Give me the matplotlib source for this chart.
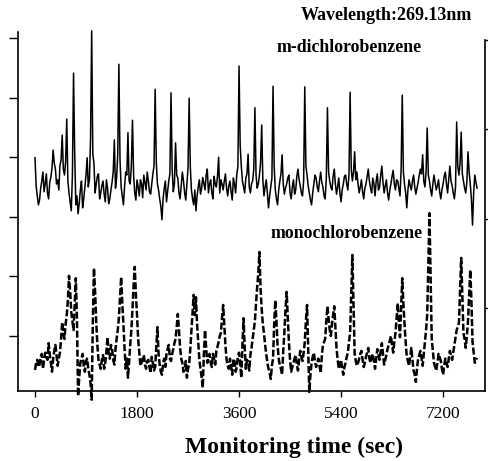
import matplotlib
matplotlib.use("Agg")
import matplotlib.pyplot as plt
import numpy as np

# samples every 40 s (main) plus the readings in between (offset by 20 s)
time_main = np.arange(0, 7840, 40)
time_mid = np.arange(20, 7800, 40)

# m-dichlorobenzene signal (solid), arbitrary intensity units
m_dichloro = [
    3.99, 3.35, 3.28, 3.60, 3.42, 3.72, 3.30, 3.66, 4.12, 3.80,
    3.62, 3.86, 4.37, 3.70, 4.64, 3.40, 3.10, 5.41, 3.20, 3.05,
    3.45, 3.15, 3.50, 3.99, 3.62, 6.12, 3.90, 3.55, 3.72, 3.40,
    3.60, 3.25, 3.48, 3.30, 3.58, 4.29, 3.65, 5.56, 3.50, 3.20,
    3.75, 4.41, 3.55, 4.62, 3.40, 3.62, 3.35, 3.55, 3.70, 3.45,
    3.60, 3.38, 3.72, 5.14, 3.55, 3.30, 2.95, 3.48, 3.25, 3.60,
    5.08, 3.42, 4.24, 3.65, 3.30, 3.75, 3.40, 3.55, 4.99, 3.45,
    3.20, 3.10, 3.50, 3.38, 3.66, 3.45, 3.80, 3.55, 3.40, 3.68,
    3.50, 4.00, 3.62, 3.45, 3.72, 3.35, 3.60, 3.28, 3.55, 3.70,
    5.53, 3.85, 3.50, 3.65, 4.05, 3.40, 3.60, 4.83, 3.48, 3.70,
    4.54, 3.35, 3.62, 3.15, 3.50, 5.19, 3.45, 3.20, 3.60, 4.04,
    3.38, 3.55, 3.70, 3.30, 3.62, 3.45, 3.80, 3.52, 3.35, 5.18,
    3.70, 3.40, 3.20, 3.55, 3.65, 3.42, 3.75, 3.50, 3.30, 4.83,
    3.60, 3.45, 3.80, 3.38, 3.65, 3.25, 3.55, 3.70, 3.45, 5.09,
    3.60, 4.09, 3.75, 3.40, 3.62, 3.30, 3.55, 3.80, 3.48, 3.65,
    3.35, 3.72, 3.50, 3.85, 3.40, 3.62, 3.28, 3.55, 3.78, 3.45,
    3.60, 3.35, 5.04, 3.55, 3.15, 3.62, 3.45, 3.70, 3.38, 3.58,
    3.80, 4.04, 3.50, 4.49, 3.60, 3.35, 3.70, 3.45, 3.62, 3.30,
    3.55, 3.75, 3.40, 3.85, 3.52, 3.30, 4.59, 3.70, 4.42, 3.60,
    3.40, 4.09, 3.55, 2.86, 3.70, 3.48,
]
m_dichloro_mid = [
    3.52, 3.20, 3.48, 3.75, 3.55, 3.40, 3.58, 3.82, 3.90, 3.55,
    3.45, 3.95, 3.80, 3.92, 3.60, 3.25, 3.70, 4.10, 3.35, 3.22,
    3.60, 3.30, 3.70, 3.50, 4.30, 4.05, 3.40, 3.68, 3.30, 3.52,
    3.38, 3.62, 3.22, 3.45, 3.75, 3.48, 4.05, 3.95, 3.35, 3.50,
    3.70, 3.60, 3.85, 3.70, 3.28, 3.50, 3.62, 3.32, 3.58, 3.75,
    3.42, 3.55, 3.85, 3.92, 3.45, 3.18, 3.30, 3.60, 3.42, 3.72,
    3.80, 3.55, 3.70, 3.40, 3.52, 3.60, 3.28, 3.82, 3.85, 3.30,
    3.45, 3.35, 3.62, 3.48, 3.55, 3.70, 3.40, 3.62, 3.30, 3.55,
    3.68, 3.40, 3.55, 3.60, 3.48, 3.52, 3.42, 3.65, 3.40, 3.85,
    4.20, 3.60, 3.40, 3.72, 3.50, 3.55, 3.80, 3.70, 3.55, 3.90,
    3.62, 3.50, 3.40, 3.35, 3.65, 3.85, 3.30, 3.45, 3.72, 3.55,
    3.48, 3.65, 3.40, 3.50, 3.38, 3.68, 3.62, 3.40, 3.60, 3.85,
    3.52, 3.28, 3.40, 3.70, 3.50, 3.60, 3.58, 3.35, 3.65, 3.75,
    3.50, 3.68, 3.55, 3.50, 3.40, 3.45, 3.68, 3.55, 3.70, 3.80,
    3.75, 3.62, 3.55, 3.50, 3.42, 3.48, 3.68, 3.60, 3.40, 3.55,
    3.60, 3.45, 3.70, 3.58, 3.52, 3.40, 3.45, 3.68, 3.55, 3.62,
    3.48, 3.80, 3.75, 3.40, 3.45, 3.52, 3.60, 3.50, 3.48, 3.70,
    3.72, 3.60, 3.75, 3.70, 3.45, 3.55, 3.58, 3.52, 3.42, 3.45,
    3.68, 3.55, 3.62, 3.60, 3.40, 3.50, 3.85, 3.90, 3.72, 3.48,
    3.58, 3.75, 3.30, 3.40, 3.58,
]

# monochlorobenzene signal (dashed)
mono_chloro = [
    0.43, 0.60, 0.52, 0.70, 0.58, 0.66, 0.88, 0.55, 0.62, 0.85,
    0.50, 0.72, 1.23, 0.95, 1.35, 2.01, 1.40, 1.10, 1.97, -0.01,
    0.55, 0.70, 0.40, 0.62, 0.35, -0.07, 2.14, 1.25, 0.60, 0.45,
    0.68, 0.55, 0.98, 0.62, 0.78, 0.52, 0.95, 1.30, 1.99, 1.20,
    0.45, 0.30, 0.85, 1.45, 2.16, 1.35, 0.72, 0.55, 0.68, 0.45,
    0.60, 0.38, 0.55, 0.48, 1.15, 0.52, 0.35, 0.62, 0.70, 0.85,
    0.58, 0.78, 0.95, 1.37, 0.80, 0.55, 0.45, 0.30, 0.52, 1.10,
    1.69, 1.65, 0.90, 0.45, 0.13, 1.10, 0.55, 0.70, 0.48, 0.62,
    0.75, 0.90, 1.05, 1.52, 0.85, 0.50, 0.62, 0.35, 0.58, 0.48,
    0.72, 0.30, 1.30, 0.45, 0.55, 0.68, 0.95, 1.25, 1.82, 2.41,
    1.45, 1.05, 0.70, 0.45, 0.28, 0.62, 1.60, 0.85, 0.50, 0.35,
    1.05, 1.74, 0.90, 0.40, 0.55, 0.68, 0.42, 0.75, 0.58, 0.90,
    1.52, 0.06, 0.55, 0.72, 0.48, 0.62, 0.38, 0.85, 0.95, 1.50,
    1.10, 1.20, 1.50, 0.80, 0.45, 0.60, 0.35, 0.55, 0.72, 1.05,
    2.36, 0.70, 0.50, 0.62, 0.75, 0.48, 0.65, 0.80, 0.55, 0.70,
    0.45, 0.78, 0.60, 0.88, 0.52, 0.68, 0.85, 1.00, 0.72, 1.05,
    1.55, 0.98, 1.97, 1.20, 0.65, 0.50, 0.80, 0.42, 0.23, 0.62,
    0.75, 0.50, 0.90, 1.35, 3.06, 0.95, 0.55, 0.42, 0.70, 0.58,
    0.35, 0.62, 0.48, 0.75, 0.60, 0.85, 1.10, 1.22, 2.31, 1.05,
    0.80, 1.25, 2.11, 0.90, 0.55, 0.63,
]
mono_chloro_mid = [
    0.55, 0.48, 0.65, 0.45, 0.72, 0.60, 0.70, 0.40, 0.75, 0.68,
    0.62, 0.95, 1.05, 1.20, 1.60, 1.75, 1.25, 1.55, 1.30, 0.30,
    0.62, 0.50, 0.58, 0.45, 0.20, 1.20, 1.75, 0.85, 0.52, 0.60,
    0.45, 0.75, 0.70, 0.85, 0.60, 0.78, 1.10, 1.65, 1.55, 0.80,
    0.62, 0.55, 1.10, 1.85, 1.70, 0.95, 0.50, 0.62, 0.52, 0.58,
    0.48, 0.65, 0.42, 0.80, 0.70, 0.40, 0.55, 0.48, 0.78, 0.62,
    0.70, 0.88, 1.15, 1.10, 0.62, 0.40, 0.58, 0.45, 0.78, 1.40,
    1.35, 1.20, 0.60, 0.30, 0.70, 0.80, 0.62, 0.55, 0.70, 0.52,
    0.82, 1.00, 1.30, 1.20, 0.60, 0.45, 0.50, 0.62, 0.40, 0.65,
    0.55, 0.85, 0.80, 0.60, 0.42, 0.80, 1.10, 1.55, 2.05, 1.80,
    1.20, 0.85, 0.55, 0.38, 0.50, 1.20, 1.25, 0.62, 0.45, 0.75,
    1.45, 1.30, 0.60, 0.48, 0.62, 0.52, 0.60, 0.65, 0.72, 1.25,
    0.80, 0.35, 0.65, 0.58, 0.55, 0.50, 0.65, 0.90, 1.25, 1.30,
    1.00, 1.35, 1.15, 0.60, 0.52, 0.45, 0.48, 0.65, 0.90, 1.70,
    1.50, 0.58, 0.55, 0.70, 0.60, 0.55, 0.72, 0.62, 0.65, 0.58,
    0.62, 0.70, 0.75, 0.70, 0.60, 0.78, 0.92, 0.85, 0.90, 1.30,
    1.25, 1.50, 1.55, 0.90, 0.58, 0.65, 0.60, 0.35, 0.45, 0.68,
    0.62, 0.70, 1.10, 2.20, 2.00, 0.75, 0.48, 0.55, 0.65, 0.45,
    0.50, 0.55, 0.62, 0.68, 0.72, 0.98, 1.15, 1.75, 1.70, 0.95,
    1.00, 1.70, 1.60, 0.72, 0.60,
]

x_ticks = [0, 1800, 3600, 5400, 7200]
x_tick_labels = ["0", "1800", "3600", "5400", "7200"]
left_ticks = [1, 2, 3, 4, 5, 6]
right_ticks = [1, 2, 3, 4]


def merge(t_a, v_a, t_b, v_b):
    t = np.concatenate([t_a, t_b])
    v = np.concatenate([np.asarray(v_a), np.asarray(v_b)])
    order = np.argsort(t)
    return t[order], v[order]


t_m, v_m = merge(time_main, m_dichloro, time_mid, m_dichloro_mid)
t_c, v_c = merge(time_main, mono_chloro, time_mid, mono_chloro_mid)

W, H = 489, 461
fig = plt.figure(figsize=(W / 100, H / 100), dpi=100)
ax = fig.add_axes([18 / W, (H - 391) / H, (485 - 18) / W, (391 - 32) / H])

serif = ["Liberation Serif", "DejaVu Serif"]

ax.plot(t_m, v_m, color="black", lw=1.1, clip_on=False)
ax.plot(t_c, v_c, color="black", lw=1.8,
        linestyle=(0, (2.8, 1.0)), clip_on=False)

ax.set_xlim(-300, 7940)
ax.set_ylim(0.077, 6.1)
ax.set_xticks(x_ticks)
ax.set_xticklabels(x_tick_labels, fontfamily=serif, fontsize=12.5)
ax.set_yticks(left_ticks)
ax.set_yticklabels([])
ax.tick_params(axis="x", direction="out", length=4.5, width=1, pad=6)
ax.tick_params(axis="y", direction="out", length=6.5, width=1)

for s in ["top", "right"]:
    ax.spines[s].set_visible(False)
for s in ["left", "bottom"]:
    ax.spines[s].set_linewidth(1.2)

ax2 = ax.twinx()
ax2.set_ylim(0.07, 4.09)
ax2.set_yticks(right_ticks)
ax2.set_yticklabels([])
ax2.tick_params(axis="y", direction="out", length=4, width=1)
for s in ["top", "left", "bottom"]:
    ax2.spines[s].set_visible(False)
ax2.spines["right"].set_bounds(0.07, 4.0)
ax2.spines["right"].set_linewidth(1.2)

fig.text(294 / W, 1 - 447 / H, "Monitoring time (sec)", fontfamily=serif,
         fontsize=17, fontweight="bold", ha="center", va="center")

fig.text(472 / W, 1 - 15 / H, "Wavelength:269.13nm", fontfamily=serif,
         fontsize=13, fontweight="bold", ha="right", va="center")
fig.text(349 / W, 1 - 47 / H, "m-dichlorobenzene", fontfamily=serif,
         fontsize=12.8, fontweight="bold", ha="center", va="center")
fig.text(347 / W, 1 - 233 / H, "monochlorobenzene", fontfamily=serif,
         fontsize=12.8, fontweight="bold", ha="center", va="center")

fig.savefig("out.png", dpi=100)
